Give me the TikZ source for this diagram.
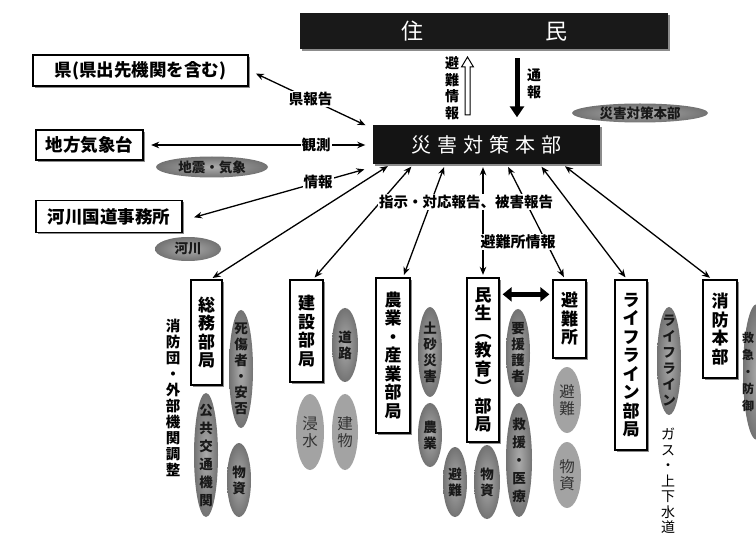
\documentclass[tikz,border=0pt]{standalone}
\usepackage{fontspec}
\setmainfont{Noto Sans CJK JP}
\usetikzlibrary{arrows.meta,shadows,calc}
\tikzset{
  x=1pt, y=-1pt,
  shd/.style={drop shadow={shadow xshift=1.6pt, shadow yshift=-1.6pt, fill=black!45, opacity=1}},
  lbox/.style={draw=black, line width=1.3pt, fill=white, inner sep=0pt, shd,
    font=\bfseries\fontsize{17.5}{19}\selectfont},
  dept/.style={draw=black, line width=1.3pt, fill=white, inner sep=0pt, shd, align=center,
    font=\bfseries\fontsize{17}{18.5}\selectfont},
  lbl/.style={fill=white, inner sep=1pt, font=\bfseries\fontsize{14.5}{16}\selectfont},
  arr/.style={line width=1.3pt, {Stealth[length=8pt,width=6.5pt]}-{Stealth[length=8pt,width=6.5pt]},
    shorten >=2.5pt, shorten <=2.5pt},
  dell/.style={inner color=black!33, outer color=black!55},
  lell/.style={fill=black!36},
  dtxt/.style={align=center, inner sep=0pt, font=\bfseries\fontsize{13.5}{16}\selectfont, text=black!90},
  ltxt/.style={align=center, inner sep=0pt, font=\fontsize{15.5}{17}\selectfont, text=black!80},
  vtxt/.style={align=center, inner sep=0pt},
}
\newcommand\dellipse[6]{\shade[dell] (#2,#3) ellipse [x radius=#4, y radius=#5];
  \node[dtxt] (#1) at (#2,#3) {#6};}
\newcommand\lellipse[6]{\fill[lell] (#2,#3) ellipse [x radius=#4, y radius=#5];
  \node[ltxt] (#1) at (#2,#3) {#6};}
\begin{document}
\begin{tikzpicture}
\useasboundingbox (0,0) rectangle (756,540);
\clip (0,0) rectangle (756,540);
\fill[white] (0,0) rectangle (756,540);

% ---------- ellipses ----------
\shade[dell] (212,167) ellipse [x radius=56, y radius=10.5];
\node[dtxt] (eq) at (212,167) {地震・気象};
\shade[dell] (188,249) ellipse [x radius=33, y radius=12];
\node[dtxt] (riv) at (188,249) {河川};
\shade[dell] (640,113) ellipse [x radius=68, y radius=9.5];
\node[dtxt] (hqe) at (640,113) {災害対策本部};

\dellipse{sisho}{241}{369}{12}{59}{死\\傷\\者\\・\\安\\否}
\shade[dell] (206,455) ellipse [x radius=12, y radius=62];
\node[dtxt, font=\bfseries\fontsize{13.5}{18}\selectfont] (kokyo) at (206,455) {公\\共\\交\\通\\機\\関};
\dellipse{bus1}{239}{480}{12}{37}{物\\資}
\dellipse{doro}{345}{345}{13}{37}{道\\路}
\lellipse{shin}{310}{432}{14}{38}{浸\\水}
\lellipse{tate}{345}{432}{13}{38}{建\\物}
\dellipse{dosha}{430}{352}{12}{45}{土\\砂\\災\\害}
\dellipse{nogyo}{430}{435}{12}{32}{農\\業}
\dellipse{hin1}{455}{482}{12}{35}{避\\難}
\dellipse{bus2}{487}{482}{13}{37}{物\\資}
\dellipse{yoen}{518}{353}{12}{44}{要\\援\\護\\者}
\shade[dell] (519,460) ellipse [x radius=13, y radius=57];
\node[dtxt, font=\bfseries\fontsize{13.5}{18}\selectfont] (kyuen) at (519,460) {救\\援\\・\\医\\療};
\lellipse{hin2}{567}{400}{14}{33}{避\\難}
\lellipse{bus3}{567}{475}{14}{33}{物\\資}
\dellipse{life}{669}{361}{12}{54}{ラ\\イ\\フ\\ラ\\イ\\ン}
\shade[dell] (757,372) ellipse [x radius=14, y radius=68];
\node[dtxt, font=\bfseries\fontsize{12}{17}\selectfont] (fire) at (748,372) {救\\急\\・\\防\\御};

% ---------- top ----------
\node[fill=black!90, minimum width=368pt, minimum height=36pt, inner sep=0pt, shd,
  text=white, font=\fontsize{22}{24}\selectfont] (ban) at (484,31) {住\hspace{122pt}民};

\node[fill=black!92, minimum width=227pt, minimum height=39pt, inner sep=0pt, shd,
  text=white, font=\fontsize{20}{22}\selectfont] (hq) at (486.5,145)
  {災\hspace{6pt}害\hspace{6pt}対\hspace{6pt}策\hspace{6pt}本\hspace{6pt}部};

% hollow up arrow (避難情報)
\draw[line width=1pt, fill=white] (465,115) -- (465,67) -- (461.5,67) -- (467.5,57)
  -- (473.5,67) -- (470,67) -- (470,115) -- cycle;
\node[vtxt, font=\bfseries\fontsize{14}{16.5}\selectfont] (hjt) at (452,88) {避\\難\\情\\報};
% solid down arrow (通報)
\draw[line width=5pt, -{Triangle[length=11pt,width=14pt]}, shorten <=9pt, shorten >=8pt]
  ([xshift=33pt]ban.south) -- ([xshift=30.5pt]hq.north);
\node[vtxt, font=\bfseries\fontsize{14}{16.5}\selectfont] (tsuho) at (534,84) {通\\報};

% ---------- left boxes ----------
\node[lbox, minimum width=215pt, minimum height=31pt] (ken) at (140.5,70.5) {県(県出先機関を含む)};
\node[lbox, minimum width=107pt, minimum height=30pt] (kisho) at (89.5,145) {地方気象台};
\node[lbox, minimum width=146pt, minimum height=32pt] (kasen) at (109,216.5) {河川国道事務所};

\draw[arr] ([xshift=5pt,yshift=-2pt]ken.east) -- ([xshift=-5pt,yshift=-1pt]hq.north west)
  node[lbl, pos=0.5] (l1) {県報告};
\draw[arr] ([xshift=5pt]kisho.east) -- ([xshift=-5pt]hq.west);
\node[lbl] (l2) at (316,145) {観測};
\draw[arr] ([xshift=9pt,yshift=-1.5pt]kasen.east) -- ([xshift=-6pt,yshift=-4pt]hq.south west);
\node[lbl] (l3) at (318,182) {情報};

% ---------- departments ----------
\node[dept, minimum width=31pt, minimum height=105pt] (somu) at (206.5,332.5) {総\\務\\部\\局};
\node[dept, minimum width=33pt, minimum height=102pt] (kensetsu) at (306.5,331) {建\\設\\部\\局};
\node[dept, minimum width=34pt, minimum height=155pt] (nogyob) at (393,355.5) {農\\業\\・\\産\\業\\部\\局};
\node[dept, minimum width=32pt, minimum height=164pt] (minsei) at (483,360) {民\\生\\︵\\教\\育\\︶\\部\\局};
\node[dept, minimum width=33pt, minimum height=78pt] (hinanjo) at (569.5,319) {避\\難\\所};
\node[dept, minimum width=32pt, minimum height=170pt] (lifeb) at (631,365) {ラ\\イ\\フ\\ラ\\イ\\ン\\部\\局};
\node[dept, minimum width=34pt, minimum height=98pt] (shobo) at (720,329) {消\\防\\本\\部};

\draw[arr] ([xshift=-96.5pt]hq.south) -- ([xshift=4pt]somu.north);
\draw[arr] ([xshift=-73.5pt]hq.south) -- ([xshift=6.5pt]kensetsu.north);
\draw[arr] ([xshift=-41.5pt]hq.south) -- ([xshift=10pt]nogyob.north);
\draw[arr] ([xshift=-3.5pt]hq.south) -- (minsei.north);
\draw[arr] ([xshift=20.5pt]hq.south) -- ([xshift=-4.5pt]hinanjo.north);
\draw[arr] ([xshift=53.5pt]hq.south) -- ([xshift=-4pt]lifeb.north);
\draw[arr] ([xshift=76.5pt]hq.south) -- ([xshift=-8pt]shobo.north);

\node[lbl] (l4) at (466,202) {指示・対応報告、被害報告};
\node[lbl, font=\bfseries\fontsize{15}{16}\selectfont] (l5) at (518,242) {避難所情報};

\draw[line width=4.5pt, {Triangle[length=9pt,width=14pt]}-{Triangle[length=9pt,width=14pt]}]
  ($(minsei.north east)+(3,17)$) -- ($(hinanjo.north west)+(-3,15)$);

% ---------- free texts ----------
\node[vtxt, font=\bfseries\fontsize{14.5}{16}\selectfont] (gaibu) at (173,398)
  {消\\防\\団\\・\\外\\部\\機\\関\\調\\整};
\node[vtxt, anchor=north, font=\fontsize{14}{15.5}\selectfont] (gas) at (668,428)
  {ガ\\ス\\・\\上\\下\\水\\道};
\end{tikzpicture}
\end{document}
